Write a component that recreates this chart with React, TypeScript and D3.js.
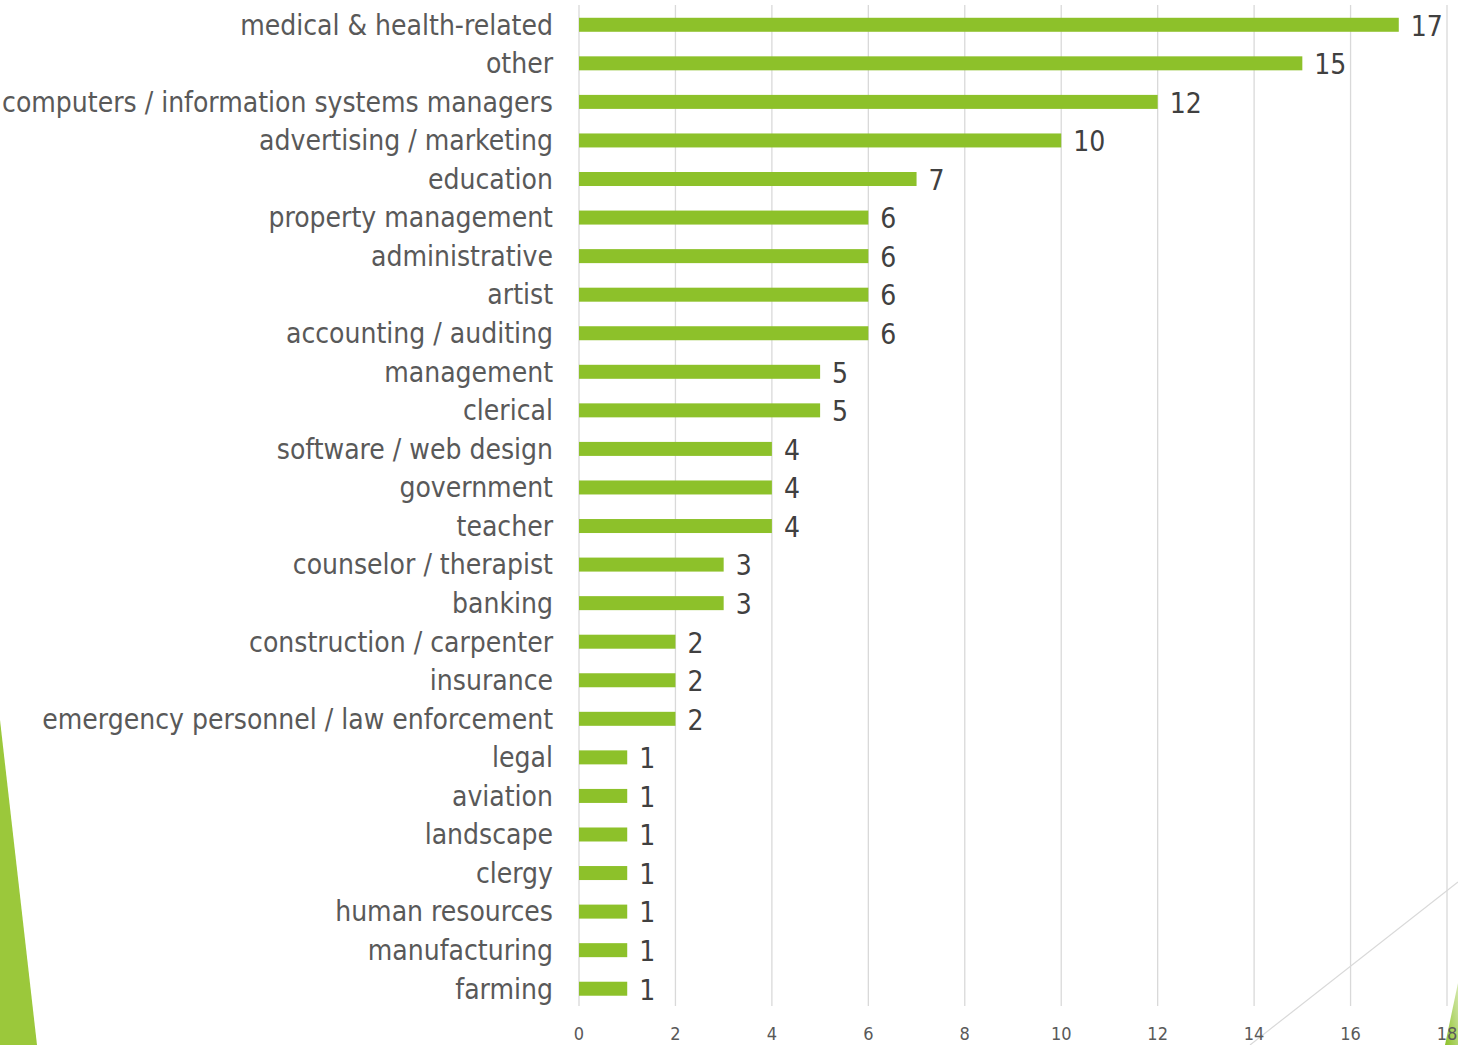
import React from "react";
import * as d3 from "d3";

const categories = [
  "medical & health-related",
  "other",
  "computers / information systems managers",
  "advertising / marketing",
  "education",
  "property management",
  "administrative",
  "artist",
  "accounting / auditing",
  "management",
  "clerical",
  "software / web design",
  "government",
  "teacher",
  "counselor / therapist",
  "banking",
  "construction / carpenter",
  "insurance",
  "emergency personnel / law enforcement",
  "legal",
  "aviation",
  "landscape",
  "clergy",
  "human resources",
  "manufacturing",
  "farming",
];
const values = [17, 15, 12, 10, 7, 6, 6, 6, 6, 5, 5, 4, 4, 4, 3, 3, 2, 2, 2, 1, 1, 1, 1, 1, 1, 1];
const ticks = [0, 2, 4, 6, 8, 10, 12, 14, 16, 18];

const W = 1458;
const H = 1045;
const FONT = "'DejaVu Sans Condensed', 'DejaVu Sans', sans-serif";

export default function App() {
  const x = d3.scaleLinear().domain([0, 18]).range([579, 1447]);
  const y = d3.scaleBand<string>().domain(categories).range([5.5, 1008]).padding(0);
  const barH = 14;
  return (
    <svg
      width={W}
      height={H}
      style={{ position: "absolute", left: 0, top: 0, background: "#fff" }}
      fontFamily={FONT}
    >
      <rect x={0} y={0} width={W} height={H} fill="#fff" />
      {/* decorations */}
      <polygon points="0,720 37,1045 0,1045" fill="#9bc83b" />
      <line x1={1250} y1={1045} x2={1458} y2={882} stroke="#d9d9d9" strokeWidth={1.2} />
      <defs>
        <linearGradient id="gr" x1="0" y1="1" x2="1" y2="0">
          <stop offset="0" stopColor="#8dc12a" />
          <stop offset="1" stopColor="#d5e9b0" />
        </linearGradient>
      </defs>
      <polygon points="1445,1045 1458,983 1458,1045" fill="url(#gr)" />
      {/* gridlines */}
      {ticks.map((t) => (
        <line key={t} x1={x(t)} x2={x(t)} y1={5} y2={1006} stroke="#d9d9d9" strokeWidth={1.3} />
      ))}
      {/* tick labels */}
      {ticks.map((t) => (
        <text key={"t" + t} x={x(t)} y={1040} textAnchor="middle" fontSize={18} fill="#595959">
          {t}
        </text>
      ))}
      {/* bars */}
      {categories.map((c, i) => {
        const cy = (y(c) as number) + y.bandwidth() / 2;
        return (
          <g key={c}>
            <rect x={x(0)} y={cy - barH / 2} width={x(values[i]) - x(0)} height={barH} fill="#8dc12a" />
            <text x={553} y={cy} dy="0.35em" textAnchor="end" fontSize={28} fill="#595959">
              {c}
            </text>
            <text x={x(values[i]) + 12} y={cy + 1} dy="0.35em" fontSize={28} fill="#404040">
              {values[i]}
            </text>
          </g>
        );
      })}
    </svg>
  );
}
